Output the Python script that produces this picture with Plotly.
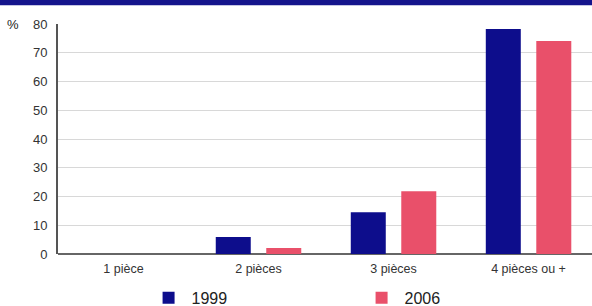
import plotly.graph_objects as go

categories = ["1 pièce", "2 pièces", "3 pièces", "4 pièces ou +"]
series_names = ["1999", "2006"]
values_1999 = [0, 5.9, 14.5, 78.3]
values_2006 = [0, 2.1, 21.8, 74.1]
y_ticks = [0, 10, 20, 30, 40, 50, 60, 70, 80]

blue = "#0d0d8c"
red = "#e9506a"

fig = go.Figure()
fig.add_trace(go.Bar(x=categories, y=values_1999, name=series_names[0], marker_color=blue, marker_line_width=0))
fig.add_trace(go.Bar(x=categories, y=values_2006, name=series_names[1], marker_color=red, marker_line_width=0))

fig.update_layout(
    width=592, height=306,
    margin=dict(l=58, r=0, t=24, b=52, autoexpand=False),
    paper_bgcolor="white", plot_bgcolor="white",
    barmode="group", bargap=0.252, bargroupgap=0.307,
    font=dict(family="Liberation Sans, Arial, sans-serif", color="#333333"),
    showlegend=True,
    legend=dict(orientation="h", x=0.164, y=-0.117, xanchor="left", yanchor="top",
                font=dict(size=16, color="#222222"), entrywidth=162, entrywidthmode="pixels",
                bgcolor="rgba(0,0,0,0)", itemsizing="constant", itemwidth=36),
    xaxis=dict(range=[-0.485, 3.47], showgrid=False, showline=False, ticks="",
               tickfont=dict(size=12.5, color="#333333"), automargin=False,
               ticklabelstandoff=5),
    yaxis=dict(range=[0, 80], tickvals=y_ticks, showgrid=True, gridcolor="#d8d8d8", gridwidth=1,
               showline=True, linecolor="#555555", linewidth=2, ticks="", zeroline=True,
               zerolinecolor="#666666", zerolinewidth=2, automargin=False,
               tickfont=dict(size=13, color="#333333"), ticklabelstandoff=6),
    shapes=[
        dict(type="rect", xref="paper", yref="paper", x0=-0.2, x1=1.1, y0=1.082, y1=1.2,
             fillcolor="#14148c", line_width=0, layer="above"),
    ],
    annotations=[
        dict(text="%", xref="paper", yref="paper", x=-0.085, y=1.0, xanchor="center", yanchor="middle",
             showarrow=False, font=dict(size=13, color="#222222")),
    ],
)

fig.write_html("out.html", config={"displayModeBar": False, "staticPlot": True},
               post_script="document.body.style.margin='0';document.body.style.overflow='hidden';")
